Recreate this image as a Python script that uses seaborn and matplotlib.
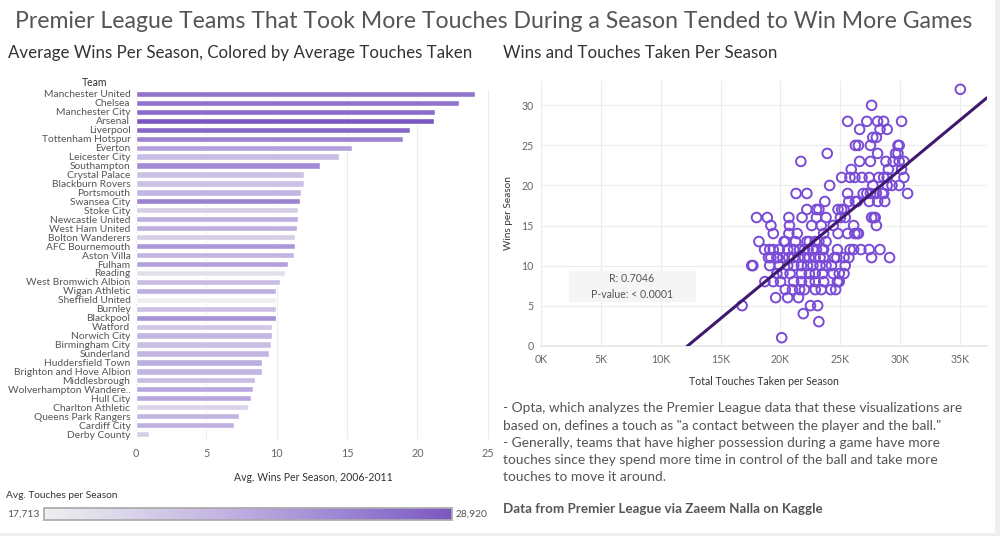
import numpy as np
import pandas as pd
import matplotlib
matplotlib.use("Agg")
import matplotlib.pyplot as plt
import seaborn as sns
from matplotlib.colors import LinearSegmentedColormap, Normalize
from matplotlib.ticker import FuncFormatter
from matplotlib.patches import Rectangle
import matplotlib as mpl

# ---------------- data ----------------
teams = ["Manchester United", "Chelsea", "Manchester City", "Arsenal", "Liverpool",
         "Tottenham Hotspur", "Everton", "Leicester City", "Southampton", "Crystal Palace",
         "Blackburn Rovers", "Portsmouth", "Swansea City", "Stoke City", "Newcastle United",
         "West Ham United", "Bolton Wanderers", "AFC Bournemouth", "Aston Villa", "Fulham",
         "Reading", "West Bromwich Albion", "Wigan Athletic", "Sheffield United", "Burnley",
         "Blackpool", "Watford", "Norwich City", "Birmingham City", "Sunderland",
         "Huddersfield Town", "Brighton and Hove Albion", "Middlesbrough", "Wolverhampton Wandere..",
         "Hull City", "Charlton Athletic", "Queens Park Rangers", "Cardiff City", "Derby County"]
avg_wins = [24.1, 22.96, 21.26, 21.2, 19.48, 18.96, 15.33, 14.43, 13.08, 11.94,
            11.94, 11.73, 11.66, 11.52, 11.52, 11.47, 11.3, 11.3, 11.23, 10.83,
            10.59, 10.26, 9.95, 9.95, 9.95, 9.95, 9.67, 9.67, 9.62, 9.45,
            8.96, 8.96, 8.46, 8.32, 8.18, 7.96, 7.32, 6.97, 0.92]
avg_touches = [27000, 27000, 27500, 28920, 27800, 26000, 24000, 22000, 25500, 21500,
               21500, 22500, 26000, 20500, 23000, 22800, 20500, 24500, 22500, 24000,
               19000, 22000, 23000, 17713, 21500, 25000, 21000, 22500, 21800, 22500,
               23000, 22500, 22000, 23500, 23500, 20000, 22500, 22800, 20500]
touch_min, touch_max = 17713, 28920
bar_ticks = [0, 5, 10, 15, 20, 25]

# scatter: (wins in a season, [total touches in thousands for each team-season])
scatter_rows = [
    (32, [35.0]),
    (30, [27.6]),
    (28, [25.6, 27.2, 28.1, 28.6, 30.1]),
    (27, [26.6, 28.3, 28.9]),
    (26, [27.7, 28.0]),
    (25, [26.25, 26.5, 27.5, 29.8, 29.9]),
    (24, [23.9, 28.1, 29.6, 29.8]),
    (23, [21.7, 26.6, 27.5, 28.8, 29.4, 29.9, 30.3]),
    (22, [25.9, 29.0, 30.1]),
    (21, [25.1, 25.8, 26.2, 26.8, 27.4, 28.2, 28.6, 28.9, 30.3]),
    (20, [24.1, 27.7, 28.9, 29.3, 29.9]),
    (19, [21.3, 22.2, 25.6, 26.9, 27.2, 27.5, 28.0, 28.5, 28.6, 30.6]),
    (18, [23.7, 25.7, 26.25, 26.4, 27.4, 28.1, 28.7]),
    (17, [22.2, 23.0, 23.2, 24.8, 25.1, 25.3]),
    (16, [18.0, 18.9, 20.7, 21.8, 23.0, 23.8, 25.0, 25.4, 27.6, 27.8, 27.9]),
    (15, [19.2, 20.75, 22.6, 23.4, 24.4, 26.1, 28.0]),
    (14, [19.4, 20.7, 21.4, 23.6, 24.8, 25.6, 26.2, 26.4, 26.5]),
    (13, [18.2, 20.3, 20.4, 21.25, 22.2, 22.4, 22.9, 23.2, 23.8]),
    (12, [18.67, 19.1, 19.4, 19.9, 20.6, 21.1, 21.6, 22.0, 22.3, 22.7, 23.0, 23.5, 23.6,
          24.75, 25.8, 26.1, 26.7, 27.4, 28.3]),
    (11, [19.0, 19.2, 19.7, 19.8, 20.2, 20.7, 21.1, 21.5, 22.0, 22.4, 22.9, 23.3, 23.6,
          24.5, 24.7, 25.3, 25.7, 27.6, 29.1]),
    (10, [17.6, 17.7, 19.1, 19.9, 20.6, 21.1, 21.75, 22.25, 22.7, 23.3, 23.8, 24.25, 25.4]),
    (9, [19.7, 20.2, 20.8, 21.75, 22.4, 22.9, 23.5, 24.4, 24.9, 25.3]),
    (8, [18.7, 19.4, 20.0, 21.1, 21.75, 22.4, 22.9, 23.6, 24.75, 24.9]),
    (7, [20.4, 21.0, 21.6, 22.0, 22.9, 23.4, 24.2, 24.6]),
    (6, [19.6, 20.6, 21.5]),
    (5, [16.8, 22.5, 23.1]),
    (4, [21.9]),
    (3, [23.2]),
    (1, [20.1]),
]
scatter_xticks_k = [0, 5, 10, 15, 20, 25, 30, 35]
scatter_yticks = [0, 5, 10, 15, 20, 25, 30]

# ---------------- style ----------------
sns.set_theme(style="white")
FONT = ["Lato", "DejaVu Sans"]
plt.rcParams["font.family"] = FONT

W, H = 1000, 536
fig = plt.figure(figsize=(W / 100, H / 100), dpi=100)
fig.patch.set_facecolor("white")

def fx(px):
    return px / W

def fy(py):
    return 1 - py / H

cmap = LinearSegmentedColormap.from_list(
    "tab_purple", [(0.0, "#efefef"), (0.4, "#c6b9e3"), (0.7, "#a08ad5"), (1.0, "#7b58c0")])
norm = Normalize(touch_min, touch_max)

# ---------------- titles ----------------
fig.text(fx(494), fy(21), "Premier League Teams That Took More Touches During a Season Tended to Win More Games",
         ha="center", va="center", fontsize=16.6, color="#555555")
fig.text(fx(8), fy(53), "Average Wins Per Season, Colored by Average Touches Taken",
         ha="left", va="center", fontsize=12.2, color="#333333")
fig.text(fx(503), fy(53), "Wins and Touches Taken Per Season",
         ha="left", va="center", fontsize=12.2, color="#333333")

# ---------------- bar chart ----------------
bars_df = pd.DataFrame({"team": teams, "wins": avg_wins, "touches": avg_touches})
pal = {t: cmap(norm(v)) for t, v in zip(teams, avg_touches)}
ax1 = fig.add_axes([fx(136), fy(438.5), fx(490) - fx(136), (438.5 - 89.5) / H])
sns.barplot(data=bars_df, y="team", x="wins", hue="team", palette=pal, order=teams,
            width=0.7, legend=False, ax=ax1, saturation=1)
ax1.set_xlim(0, 25.16)
ax1.set_xticks(bar_ticks)
ax1.set_xticklabels([str(t) for t in bar_ticks], fontsize=7.8, color="#666666")
ax1.xaxis.grid(True, color="#ececec", linewidth=0.8)
ax1.set_axisbelow(True)
for s in ax1.spines.values():
    s.set_visible(False)
ax1.tick_params(axis="y", length=0, pad=4, labelsize=7.4, labelcolor="#555555")
ax1.tick_params(axis="x", length=0, pad=7)
ax1.set_ylabel("")
ax1.set_xlabel("Avg. Wins Per Season, 2006-2011", fontsize=7.6, color="#333333", labelpad=9)
fig.text(fx(107), fy(82), "Team", ha="right", va="center", fontsize=7.6, color="#333333")

# colour legend
fig.text(fx(6), fy(496), "Avg. Touches per Season", ha="left", va="center", fontsize=7.3, color="#333333")
cax = fig.add_axes([fx(44), fy(520), fx(452) - fx(44), 12 / H])
cb = mpl.colorbar.ColorbarBase(cax, cmap=cmap, norm=norm, orientation="horizontal")
cb.set_ticks([])
cb.outline.set_edgecolor("#aaaaaa")
fig.text(fx(40), fy(514), f"{touch_min:,}", ha="right", va="center", fontsize=7.4, color="#555555")
fig.text(fx(456), fy(514), f"{touch_max:,}", ha="left", va="center", fontsize=7.4, color="#555555")

# ---------------- scatter ----------------
sc_w, sc_t = [], []
for w, ts in scatter_rows:
    for t in ts:
        sc_w.append(w)
        sc_t.append(t * 1000)
sc_df = pd.DataFrame({"touches": sc_t, "wins": sc_w})

ax2 = fig.add_axes([fx(540.7), fy(345.7), fx(986.7) - fx(540.7), (345.7 - 81.3) / H])
ax2.set_xlim(0, 37200)
ax2.set_ylim(0, 33)
sns.scatterplot(data=sc_df, x="touches", y="wins", ax=ax2, s=48, marker="o",
                facecolors="none", edgecolor="#7a4bd6", linewidth=1.4, zorder=3)
sns.regplot(data=sc_df, x="touches", y="wins", ax=ax2, scatter=False, ci=None,
            truncate=False, color="#3e1a6e", line_kws={"linewidth": 2.2, "zorder": 4})
ax2.set_xlim(0, 37200)
ax2.set_ylim(0, 33)
ax2.set_xticks([k * 1000 for k in scatter_xticks_k])
ax2.xaxis.set_major_formatter(FuncFormatter(lambda v, p: f"{int(round(v / 1000))}K"))
ax2.set_yticks(scatter_yticks)
ax2.grid(True, color="#ececec", linewidth=0.8)
ax2.set_axisbelow(True)
for name, s in ax2.spines.items():
    s.set_visible(name == "bottom")
ax2.spines["bottom"].set_color("#e6e6e6")
ax2.tick_params(axis="both", length=0, labelsize=7.6, labelcolor="#666666")
ax2.tick_params(axis="x", pad=6)
ax2.tick_params(axis="y", pad=5)
ax2.set_xlabel("Total Touches Taken per Season", fontsize=7.6, color="#333333", labelpad=8)
ax2.set_ylabel("Wins per Season", fontsize=7.2, color="#333333", labelpad=6)

# R / p-value box
fig.patches.append(Rectangle((fx(569), fy(302)), fx(696) - fx(569), (302 - 271) / H,
                             transform=fig.transFigure, facecolor="#f5f5f5",
                             edgecolor="none", zorder=5))
fig.text(fx(632), fy(279), "R: 0.7046", ha="center", va="center", fontsize=7.6,
         color="#555555", zorder=6)
fig.text(fx(632), fy(294), "P-value: < 0.0001", ha="center", va="center", fontsize=7.6,
         color="#555555", zorder=6)

# ---------------- notes ----------------
notes = ("- Opta, which analyzes the Premier League data that these visualizations are\n"
         "based on, defines a touch as \"a contact between the player and the ball.\"\n"
         "- Generally, teams that have higher possession during a game have more\n"
         "touches since they spend more time in control of the ball and take more\n"
         "touches to move it around.")
fig.text(fx(503), fy(402.5), notes, ha="left", va="top", fontsize=9.95, color="#555555",
         linespacing=1.52)
fig.text(fx(503), fy(509), "Data from Premier League via Zaeem Nalla on Kaggle",
         ha="left", va="center", fontsize=9.6, color="#555555", fontweight="bold")

# frame strips
fig.patches.append(Rectangle((fx(995), 0), fx(5), 1, transform=fig.transFigure,
                             facecolor="#efefef", edgecolor="none"))
fig.patches.append(Rectangle((0, 0), 1, 3 / H, transform=fig.transFigure,
                             facecolor="#efefef", edgecolor="none"))

fig.savefig("out.png", dpi=100, facecolor="white")
